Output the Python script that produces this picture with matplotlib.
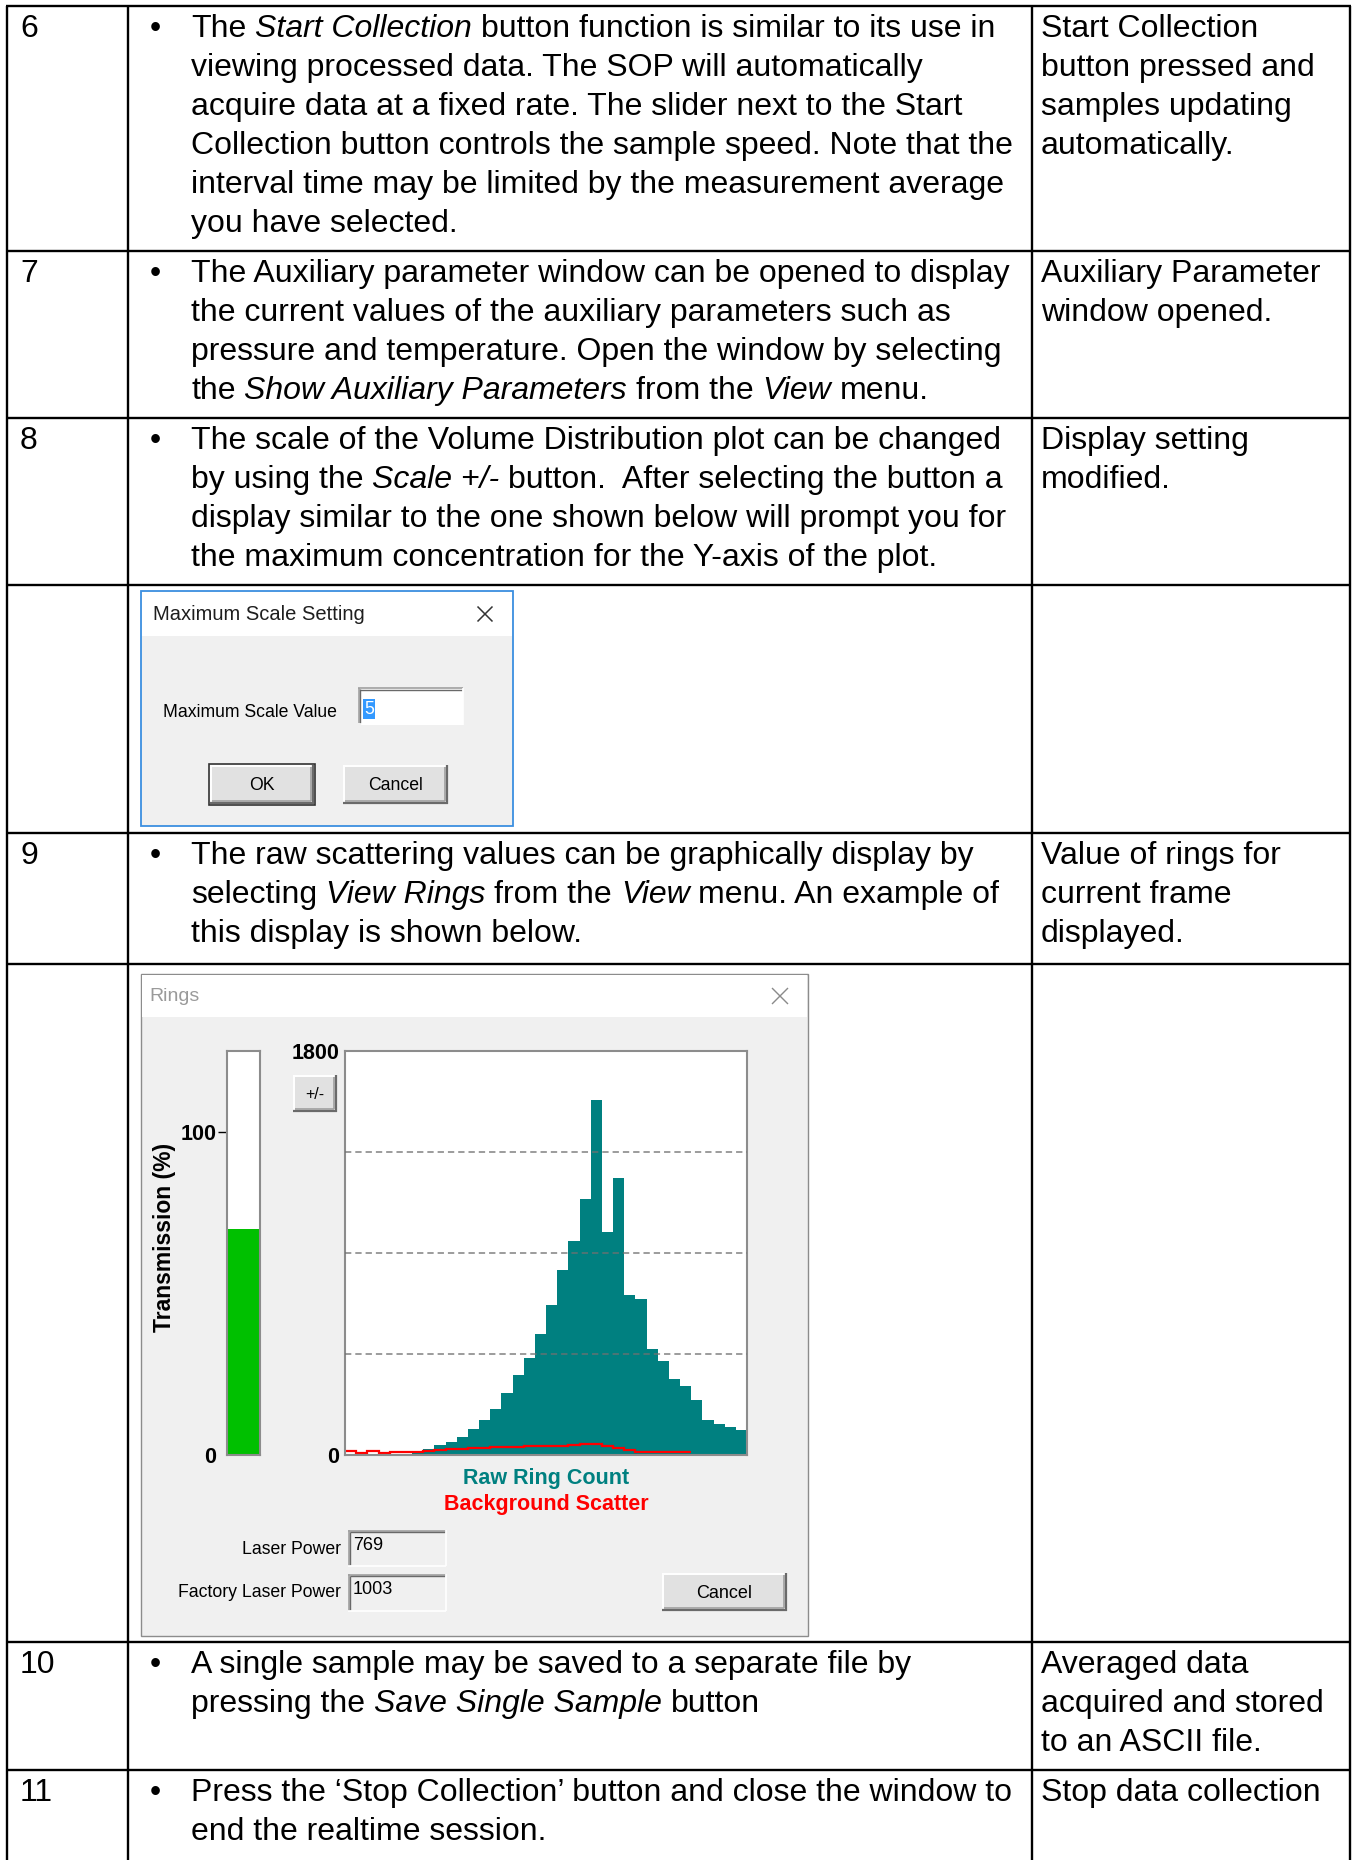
import numpy as np
import matplotlib
matplotlib.use('Agg')
import matplotlib.pyplot as plt
from matplotlib.patches import Rectangle

plt.rcParams['font.family'] = ['Liberation Sans', 'DejaVu Sans']

W, H = 1353, 1860

ring_counts = [4, 4, 4, 5, 5, 6, 9, 27, 43, 58, 81, 118, 155, 207, 275, 358, 434, 537,
               667, 823, 953, 1141, 1580, 995, 1235, 711, 696, 473, 420, 337, 308, 246,
               155, 136, 126, 110]
background = [17, 10, 17, 10, 12, 12, 14, 19, 23, 25, 27, 33, 33, 35, 37, 37, 41, 41,
              41, 41, 43, 48, 48, 41, 33, 21, 14, 12, 12, 12, 12]
grid_levels = [450, 900, 1350]
ring_max = 1800
transmission = 70
trans_max = 125
laser_power = '769'
factory_power = '1003'
max_scale_value = '5'

# table text, *...* marks italic runs
step_numbers = ['6', '7', '8', '9', '10', '11']
step_text = [
    ['The *Start Collection* button function is similar to its use in',
     'viewing processed data. The SOP will automatically',
     'acquire data at a fixed rate. The slider next to the Start',
     'Collection button controls the sample speed. Note that the',
     'interval time may be limited by the measurement average',
     'you have selected.'],
    ['The Auxiliary parameter window can be opened to display',
     'the current values of the auxiliary parameters such as',
     'pressure and temperature. Open the window by selecting',
     'the *Show Auxiliary Parameters* from the *View* menu.'],
    ['The scale of the Volume Distribution plot can be changed',
     'by using the *Scale +/-* button.  After selecting the button a',
     'display similar to the one shown below will prompt you for',
     'the maximum concentration for the Y-axis of the plot.'],
    ['The raw scattering values can be graphically display by',
     'selecting *View Rings* from the *View* menu. An example of',
     'this display is shown below.'],
    ['A single sample may be saved to a separate file by',
     'pressing the *Save Single Sample* button'],
    ['Press the \u2018Stop Collection\u2019 button and close the window to',
     'end the realtime session.'],
]
step_result = [
    ['Start Collection', 'button pressed and', 'samples updating', 'automatically.'],
    ['Auxiliary Parameter', 'window opened.'],
    ['Display setting', 'modified.'],
    ['Value of rings for', 'current frame', 'displayed.'],
    ['Averaged data', 'acquired and stored', 'to an ASCII file.'],
    ['Stop data collection'],
]

# layout (pixels)
col_x = [7, 128, 1032, 1350]
row_y = [6, 251, 418, 585, 833, 964, 1642, 1770]
text_rows = [0, 1, 2, 4, 6, 7]
body_size = 23
line_gap = 39
first_base = 31

fig = plt.figure(figsize=(W / 100, H / 100), dpi=100)
ax = fig.add_axes([0, 0, 1, 1])
ax.set_xlim(0, W)
ax.set_ylim(H, 0)
ax.axis('off')
renderer = fig.canvas.get_renderer()


def fig_rect(x0, y0, x1, y1):
    return [x0 / W, 1 - y1 / H, (x1 - x0) / W, (y1 - y0) / H]


def box(x0, y0, x1, y1, face, edge='none', lw=1.0, z=1):
    ax.add_patch(Rectangle((x0, y0), x1 - x0, y1 - y0, facecolor=face,
                           edgecolor=edge, linewidth=lw, zorder=z))


def seg(xs, ys, color, lw=1.0, z=2):
    ax.plot(xs, ys, color=color, lw=lw, solid_capstyle='butt', zorder=z)


def button(x0, y0, x1, y1, label, size=13, default=False):
    box(x0, y0, x1, y1, '#e1e1e1')
    seg([x0, x1], [y0 + 1, y0 + 1], 'white', 1.4)
    seg([x0 + 1, x0 + 1], [y0, y1], 'white', 1.4)
    seg([x0, x1], [y1 - 1, y1 - 1], '#6a6a6a', 1.6)
    seg([x1 - 1, x1 - 1], [y0, y1], '#6a6a6a', 1.6)
    seg([x0 + 2, x1 - 3], [y1 - 3.5, y1 - 3.5], '#a0a0a0', 1.2)
    seg([x1 - 3.5, x1 - 3.5], [y0 + 2, y1 - 3], '#a0a0a0', 1.2)
    if default:
        box(x0 - 1, y0 - 1, x1 + 1, y1 + 1, 'none', '#333333', 1.2, z=2)
    ax.text((x0 + x1) / 2, (y0 + y1) / 2 + 1, label, fontsize=size, ha='center',
            va='center', color='black', zorder=3)


def sunken(x0, y0, x1, y1, face):
    box(x0, y0, x1, y1, face)
    seg([x0, x1], [y0 + 0.5, y0 + 0.5], '#a0a0a0', 1.2)
    seg([x0 + 0.5, x0 + 0.5], [y0, y1], '#a0a0a0', 1.2)
    seg([x0 + 1.5, x1 - 1], [y0 + 2, y0 + 2], '#696969', 1.0)
    seg([x0 + 2, x0 + 2], [y0 + 1.5, y1 - 1], '#696969', 1.0)
    seg([x0, x1], [y1 - 0.5, y1 - 0.5], 'white', 1.2)
    seg([x1 - 0.5, x1 - 0.5], [y0, y1], 'white', 1.2)


def close_x(cx, cy, r, color, lw=1.0):
    seg([cx - r, cx + r], [cy - r, cy + r], color, lw, 3)
    seg([cx - r, cx + r], [cy + r, cy - r], color, lw, 3)


# width of one space in the body font
t1 = ax.text(0, -100, 'a a', fontsize=body_size)
t2 = ax.text(0, -100, 'aa', fontsize=body_size)
space_w = t1.get_window_extent(renderer).width - t2.get_window_extent(renderer).width
t1.remove()
t2.remove()


def draw_line(x, y, line):
    for i, part in enumerate(line.split('*')):
        if not part:
            continue
        lead = len(part) - len(part.lstrip(' '))
        trail = len(part) - len(part.rstrip(' '))
        core = part.strip(' ')
        x += lead * space_w
        if core:
            t = ax.text(x, y, core, fontsize=body_size, va='baseline', ha='left',
                        fontstyle='italic' if i % 2 else 'normal', zorder=3)
            x += t.get_window_extent(renderer).width
        x += trail * space_w


# table grid
for x in col_x:
    seg([x, x], [row_y[0], H], 'black', 1.7)
for y in row_y:
    seg([col_x[0] - 1, col_x[-1] + 1], [y, y], 'black', 1.7)

for num, lines, result, r in zip(step_numbers, step_text, step_result, text_rows):
    base = row_y[r] + first_base
    ax.text(20, base, num, fontsize=body_size, va='baseline', zorder=3)
    ax.text(155, base, '\u2022', fontsize=body_size, va='baseline', ha='center', zorder=3)
    for k, line in enumerate(lines):
        draw_line(191, base + k * line_gap, line)
    for k, line in enumerate(result):
        ax.text(1041, base + k * line_gap, line, fontsize=body_size, va='baseline', zorder=3)

# "Maximum Scale Setting" dialog
box(141, 591, 513, 826, '#f0f0f0', '#3b8fe0', 1.3)
box(142, 592, 512, 636, 'white')
ax.text(153, 614, 'Maximum Scale Setting', fontsize=14.5, va='center', color='#1e1e1e', zorder=3)
close_x(485, 614, 7.5, '#333333', 1.1)
ax.text(163, 712, 'Maximum Scale Value', fontsize=12.7, va='center', zorder=3)
sunken(358, 688, 463, 725, 'white')
box(363, 699, 375, 719, '#3399ff', z=2)
ax.text(369, 709, max_scale_value, fontsize=12.7, ha='center', va='center', color='white', zorder=3)
button(210, 765, 314, 804, 'OK', 12.7, default=True)
button(343, 765, 448, 804, 'Cancel', 12.7)

# "Rings" window
box(141, 974, 808, 1636, '#f0f0f0', '#8c8c8c', 1.0)
box(142, 975, 807, 1017, 'white')
ax.text(149, 996, 'Rings', fontsize=14, va='center', color='#9a9a9a', zorder=3)
close_x(780, 996, 8, '#8a8a8a', 1.0)
button(293, 1075, 337, 1112, '+/-', 11.5)
ax.text(164, 1237, 'Transmission (%)', fontsize=16.5, fontweight='bold', rotation=90,
        ha='center', va='center', zorder=3)
ax.text(546, 1484, 'Raw Ring Count', fontsize=15.5, fontweight='bold', color='#008080',
        ha='center', va='baseline', zorder=3)
ax.text(546, 1510, 'Background Scatter', fontsize=15.5, fontweight='bold', color='#ff0000',
        ha='center', va='baseline', zorder=3)
ax.text(341, 1549, 'Laser Power', fontsize=12.7, ha='right', va='center', zorder=3)
ax.text(341, 1592, 'Factory Laser Power', fontsize=12.7, ha='right', va='center', zorder=3)
sunken(348, 1530, 446, 1566, '#f0f0f0')
sunken(348, 1574, 446, 1611, '#f0f0f0')
ax.text(353, 1545, laser_power, fontsize=13, va='center', zorder=3)
ax.text(353, 1589, factory_power, fontsize=13, va='center', zorder=3)
button(662, 1573, 787, 1611, 'Cancel', 13)

# ring count plot
hax = fig.add_axes(fig_rect(345, 1051, 747, 1455), zorder=3)
hax.set_xlim(0, len(ring_counts))
hax.set_ylim(0, ring_max)
hax.stairs(ring_counts, np.arange(len(ring_counts) + 1), fill=True, color='#008080', lw=0)
hax.stairs(background, np.arange(len(background) + 1), baseline=None, color='#ff0000', lw=1.6)
for g in grid_levels:
    hax.axhline(g, color='#707070', alpha=0.75, lw=1.3, dashes=(3.5, 2.2), zorder=4)
hax.set_xticks([])
hax.set_yticks([0, ring_max])
hax.set_yticklabels(['0', str(ring_max)], fontsize=15.5, fontweight='bold')
hax.tick_params(axis='y', length=0, pad=4)
for s in hax.spines.values():
    s.set_color('#8c8c8c')
    s.set_linewidth(1.5)

# transmission bar
tax = fig.add_axes(fig_rect(227, 1051, 260, 1455), zorder=3)
tax.set_xlim(0, 1)
tax.set_ylim(0, trans_max)
tax.bar(0.5, transmission, width=1.0, color='#00c000', linewidth=0)
tax.set_xticks([])
tax.set_yticks([0, 100])
tax.set_yticklabels(['0', '100'], fontsize=15.5, fontweight='bold')
tax.tick_params(axis='y', length=6.5, width=1.0, pad=1)
tax.yaxis.get_major_ticks()[0].tick1line.set_visible(False)
for s in tax.spines.values():
    s.set_color('#8c8c8c')
    s.set_linewidth(1.5)

fig.savefig('out.png', dpi=100, facecolor='white')
